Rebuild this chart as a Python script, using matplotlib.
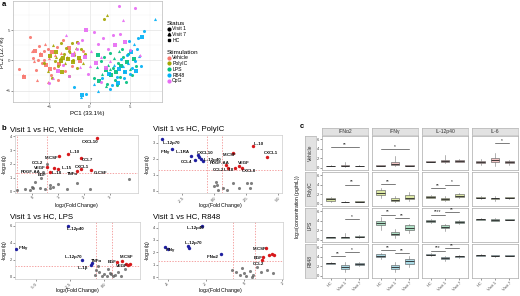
import matplotlib.pyplot as plt
import numpy as np
from matplotlib.lines import Line2D

plt.rcParams['font.family'] = ['Liberation Sans', 'DejaVu Sans']
plt.rcParams['mathtext.default'] = 'regular'

# ---------------- data: panel a (PCA) ----------------
# (PC1, PC2, status)
pca_vehicle = [(-8.7, -1.5, 'V1'), (-8.3, -2.5, 'V7'), (-8.1, -2.7, 'HC'), (-7.4, 3.8, 'V1'), (-7.2, 1.5, 'V7'),
               (-7.0, 0.3, 'V1'), (-6.8, 1.6, 'HC'), (-6.6, -1.6, 'V1'), (-6.5, -3.3, 'V7'), (-6.3, 2.4, 'V1'),
               (-6.2, 1.2, 'V7'), (-6.0, 0.9, 'HC'), (-5.9, -0.4, 'V1'), (-5.7, 1.6, 'V1'), (-5.5, 2.7, 'V7'),
               (-5.4, -0.8, 'HC'), (-5.2, 1.9, 'V1'), (-5.0, 0.4, 'V7'), (-4.8, -2.5, 'V1'), (-4.6, 1.4, 'HC'),
               (-4.4, -1.2, 'V1'), (-4.3, 0.9, 'V7'), (-4.0, 2.2, 'V1'), (-3.8, -0.6, 'HC'), (-3.6, 1.2, 'V7'),
               (-3.3, 3.4, 'V1'), (-3.0, -1.7, 'V1'), (-2.8, 0.6, 'V7'), (-2.5, 2.1, 'HC'), (-2.2, -0.9, 'V1'),
               (-1.9, 1.3, 'V7'), (-1.5, 3.1, 'V1'), (-1.2, -0.2, 'HC'), (-0.8, 1.6, 'V1'), (-6.9, -0.1, 'V7'),
               (-5.6, 0.0, 'V1'), (-4.9, -1.5, 'HC'), (-3.9, -3.3, 'V1'), (-5.1, -3.6, 'V7'), (-6.4, 0.0, 'V1')]
pca_polyic = [(-5.6, -0.4, 'V1'), (-5.2, -1.7, 'V7'), (-4.9, 0.7, 'HC'), (-4.7, -2.9, 'V1'), (-4.5, 2.6, 'V7'),
              (-4.3, -0.2, 'V1'), (-4.1, 1.4, 'HC'), (-3.9, -1.0, 'V1'), (-3.7, 0.3, 'V7'), (-3.5, 2.8, 'V1'),
              (-3.4, -1.9, 'HC'), (-3.2, 1.0, 'V1'), (-3.0, -0.5, 'V7'), (-2.9, 2.0, 'V1'), (-2.7, 0.2, 'HC'),
              (-2.5, -2.6, 'V1'), (-2.4, 1.3, 'V7'), (-2.2, 2.9, 'V1'), (-2.1, -0.3, 'HC'), (-1.9, 0.8, 'V1'),
              (-1.7, 2.1, 'V7'), (-1.5, -1.2, 'V1'), (-1.3, 0.4, 'HC'), (-1.1, 1.8, 'V1'), (-0.8, -0.5, 'V7'),
              (-0.5, 1.0, 'V1'), (-3.6, -0.1, 'HC'), (-2.6, 1.6, 'V1'), (-4.2, 0.5, 'V7'), (1.8, 6.8, 'V1'),
              (2.2, 7.5, 'V7'), (-2.0, 0.0, 'V1'), (-3.3, 0.4, 'HC'), (-1.6, 3.0, 'V1')]
pca_lps = [(0.6, -2.9, 'V1'), (0.9, -1.1, 'V7'), (1.2, -3.4, 'HC'), (1.4, -0.2, 'V1'), (1.6, -2.2, 'V7'),
           (1.8, 0.6, 'V1'), (2.0, -1.6, 'HC'), (2.2, -3.9, 'V1'), (2.3, -0.7, 'V7'), (2.5, 1.2, 'V1'),
           (2.7, -2.5, 'HC'), (2.9, -1.2, 'V1'), (3.0, 0.3, 'V7'), (3.2, -3.2, 'V1'), (3.3, -1.9, 'HC'),
           (3.5, -0.5, 'V1'), (3.6, 1.6, 'V7'), (3.8, -2.7, 'V1'), (3.9, -1.0, 'HC'), (4.1, 0.6, 'V1'),
           (4.3, -1.8, 'V7'), (4.5, -3.6, 'V1'), (4.6, -0.3, 'HC'), (4.8, 1.0, 'V1'), (5.0, -1.4, 'V7'),
           (5.3, -2.4, 'V1'), (5.5, 0.2, 'HC'), (5.8, -0.9, 'V1'), (2.1, -4.3, 'V7'), (3.4, -4.1, 'V1'),
           (1.0, 0.9, 'HC'), (4.0, 1.8, 'V1'), (2.6, -1.4, 'V7')]
pca_r848 = [(-1.9, -4.5, 'V1'), (-1.1, -6.0, 'V7'), (-0.9, -5.7, 'HC'), (-0.4, -5.5, 'V1'), (0.5, -4.0, 'V7'),
            (1.5, -3.0, 'V1'), (2.4, -2.3, 'HC'), (2.8, -4.1, 'V1'), (3.1, -0.8, 'V7'), (3.4, -2.8, 'V1'),
            (3.7, -1.5, 'HC'), (3.9, 0.2, 'V1'), (4.1, -0.9, 'V7'), (4.3, -3.0, 'V1'), (4.4, -1.9, 'HC'),
            (4.6, 0.8, 'V1'), (4.8, -0.4, 'V7'), (5.0, -2.3, 'V1'), (5.2, 1.3, 'HC'), (5.3, -1.2, 'V1'),
            (5.5, 2.7, 'V7'), (5.7, -0.2, 'V1'), (5.8, -1.8, 'HC'), (6.0, 3.6, 'V1'), (6.2, 0.7, 'V7'),
            (6.4, -0.9, 'V1'), (6.5, 3.9, 'HC'), (6.8, 4.8, 'V1'), (8.1, 6.8, 'V7'), (4.9, 3.2, 'V1'),
            (3.5, -3.8, 'HC'), (2.5, -4.8, 'V1'), (1.0, -5.0, 'V7'), (5.9, 1.9, 'V1')]
pca_cpg = [(-5.0, -3.8, 'V1'), (-4.5, -2.9, 'V7'), (-3.9, -1.7, 'HC'), (-3.3, -0.8, 'V1'), (-2.9, 4.2, 'V7'),
           (-2.5, -2.6, 'V1'), (-2.1, 0.9, 'HC'), (-1.6, 1.9, 'V1'), (-1.2, -1.1, 'V7'), (-0.9, 3.3, 'V1'),
           (-0.5, 0.5, 'HC'), (-0.2, -2.2, 'V1'), (0.2, 1.6, 'V7'), (0.5, 4.6, 'V1'), (0.8, -0.4, 'HC'),
           (1.1, 2.7, 'V1'), (1.4, 0.6, 'V7'), (1.7, 3.6, 'V1'), (2.0, -1.3, 'HC'), (2.3, 1.8, 'V1'),
           (2.6, -0.1, 'V7'), (2.9, 4.2, 'V1'), (3.2, 2.5, 'HC'), (3.6, 9.0, 'V1'), (4.2, 6.6, 'V7'),
           (5.7, 8.7, 'V1'), (4.4, 3.0, 'HC'), (5.0, 1.7, 'V1'), (6.3, 0.9, 'V7'), (1.4, -3.6, 'V1'),
           (-0.4, 5.0, 'HC'), (3.8, 4.4, 'V1'), (0.1, -1.0, 'V7'), (-1.4, 2.9, 'V1')]

stim_names = ['Vehicle', 'PolyIC', 'LPS', 'R848', 'CpG']
stim_points = [pca_vehicle, pca_polyic, pca_lps, pca_r848, pca_cpg]
status_codes = ['V1', 'V7', 'HC']
status_names = ['Visit 1', 'Visit 7', 'HC']

# ---------------- data: panel b (volcano plots) ----------------
veh_genes = ['CXCL10', 'IL-10', 'M-CSF', 'CCL7', 'CCL2', 'VEGF', '', 'IL-15', 'CXCL1', 'PDGF-AA', 'IL-18',
             'TNFα', 'G-CSF', 'EGF', '', '', '', '', '', '', '', '', '', '', '', '', '', '', '', '']
veh_fc = [2.5, 1.4, 1.05, 1.9, 0.57, 0.6, 0.85, 1.0, 1.9, 0.43, 0.7, 1.75, 2.3, 0.35,
          -0.58, -0.27, -0.08, 0.04, 0.0, 0.31, 0.5, 0.69, 0.81, 1.0, 0.69, 1.35, 1.73, 2.23, 3.77, 0.12]
veh_q = [3.85, 2.7, 2.6, 2.45, 2.0, 1.75, 1.7, 1.6, 1.6, 1.42, 1.4, 1.45, 1.55, 1.0,
         0.07, 0.14, 0.07, 0.28, 0.35, 0.28, 0.14, 0.28, 0.35, 0.56, 0.49, 0.14, 0.63, 0.14, 0.91, 0.7]

pic_genes = ['IL-12p70', 'IFNγ', 'IL-1RA', 'CXCL10', 'CCL4', 'IL-12p40', '', '', 'M-CSF', 'IL-10', 'CXCL1',
             'PDGF-AA', 'CCL2', 'IL-18', 'VEGF', 'CXCL8', '', '', '', '', '', '', '', '', '', '', '']
pic_fc = [-4.1, -3.3, -1.8, -1.3, -1.5, -1.0, -0.9, -1.2, 1.5, 3.0, 4.1, 0.9, 1.1, 1.6, 1.9, 2.2,
          0.16, 0.25, 0.7, 1.5, 1.9, 2.6, 0.3, 1.0, 2.8, 2.9, 0.0]
pic_q = [3.25, 2.6, 2.2, 2.25, 1.95, 2.0, 1.85, 2.1, 2.35, 2.8, 2.1, 1.6, 1.4, 1.4, 1.55, 1.45,
         0.56, 0.37, 0.19, 0.5, 0.19, 0.5, 0.06, 0.06, 0.19, 0.5, 0.3]

lps_genes = ['IFNγ', 'IL-12p40', 'IL-12p70', 'IL-1β', '', 'EGF', 'M-CSF', 'VEGF', '', '', 'TNFα',
             '', '', '', '', '', '', '', '', '', '', '', '', '', '']
lps_fc = [-6.4, -2.65, -1.6, -1.0, -0.9, 0.95, 1.3, 1.75, 1.9, 1.6, -0.45,
          -0.7, -0.4, -0.2, 0.0, 0.2, 0.4, 0.6, 0.8, 1.0, 1.2, 0.3, -0.6, 0.5, 1.5]
lps_q = [3.3, 6.0, 2.0, 1.45, 1.6, 1.7, 1.9, 1.35, 1.5, 1.55, 1.3,
         0.2, 0.6, 0.1, 0.3, 0.15, 0.5, 0.05, 0.2, 0.6, 0.1, 0.9, 0.8, 0.3, 0.9]

r848_genes = ['IL-12p40', 'IFNγ', 'IL-12p70', 'IFNα2', '', '', 'M-CSF', 'EGF', 'CCL2', '', '', '',
              '', '', '', '', '', '', '', '', '', '', '', '', '']
r848_fc = [-2.2, -4.15, -2.95, -1.2, -4.0, -2.85, 1.15, 1.0, 0.95, 1.45, 1.3, 1.6,
           -0.6, -0.4, -0.2, 0.0, 0.1, 0.3, 0.5, 0.7, 0.9, 1.2, 1.5, -0.1, 0.4]
r848_q = [4.15, 2.45, 2.5, 1.9, 2.3, 2.35, 2.35, 1.6, 1.35, 1.9, 1.75, 1.8,
          0.6, 0.45, 0.2, 0.35, 0.1, 0.5, 0.2, 0.8, 0.4, 0.6, 0.3, 0.7, 0.05]

FC_CUT = np.log2(1.5)
Q_CUT = -np.log10(0.05)

# ---------------- data: panel c (box plots) ----------------
cytokines = ['IFNα2', 'IFNγ', 'IL-12p40', 'IL-6']
stims_c = ['Vehicle', 'PolyIC', 'LPS', 'R848']
groups = ['HC', 'Visit 1', 'Visit 7']
# [stim][cytokine][group] -> (median, q1, q3, whisker low, whisker high)
box_stats = [
    [[(0.35, 0.3, 0.45, 0.25, 0.5), (0.35, 0.3, 0.5, 0.2, 1.3), (0.35, 0.3, 0.45, 0.25, 0.5)],
     [(0.45, 0.4, 0.55, 0.35, 0.6), (0.7, 0.5, 1.1, 0.3, 2.4), (0.45, 0.4, 0.5, 0.35, 0.55)],
     [(1.3, 1.2, 1.4, 1.1, 1.5), (1.4, 1.2, 1.7, 0.9, 2.7), (1.35, 1.25, 1.55, 1.1, 1.8)],
     [(1.2, 1.0, 1.5, 0.6, 1.8), (1.6, 1.3, 2.0, 0.3, 3.0), (1.1, 0.9, 1.4, 0.6, 1.7)]],
    [[(0.9, 0.6, 1.2, 0.3, 1.5), (0.35, 0.3, 0.45, 0.25, 0.55), (0.4, 0.3, 0.5, 0.25, 0.6)],
     [(2.3, 1.9, 2.8, 1.3, 3.3), (0.8, 0.5, 1.2, 0.3, 1.6), (1.3, 0.9, 1.9, 0.5, 2.4)],
     [(1.5, 1.3, 1.7, 1.1, 1.9), (1.0, 0.8, 1.3, 0.5, 1.6), (1.7, 1.5, 2.0, 1.3, 2.2)],
     [(1.3, 1.15, 1.45, 1.0, 1.6), (1.1, 0.9, 1.3, 0.6, 1.6), (1.25, 1.1, 1.4, 1.0, 1.5)]],
    [[(0.5, 0.45, 0.6, 0.4, 0.65), (0.5, 0.45, 0.6, 0.4, 1.4), (0.6, 0.5, 0.8, 0.45, 0.9)],
     [(3.5, 3.0, 4.0, 2.0, 4.8), (1.3, 0.9, 1.7, 0.3, 2.3), (2.5, 2.1, 3.0, 1.5, 3.4)],
     [(3.9, 3.7, 4.1, 3.5, 4.3), (2.7, 2.4, 3.1, 1.8, 3.4), (3.8, 3.6, 4.0, 3.4, 4.2)],
     [(4.3, 4.2, 4.4, 4.1, 4.5), (4.2, 4.05, 4.35, 3.9, 4.5), (4.25, 4.15, 4.3, 4.1, 4.4)]],
    [[(2.6, 2.5, 2.7, 2.4, 2.8), (1.8, 1.4, 2.2, 0.7, 2.9), (2.5, 2.3, 2.7, 2.1, 2.9)],
     [(4.2, 3.9, 4.5, 3.5, 4.8), (1.8, 1.4, 2.2, 0.8, 2.8), (3.0, 2.5, 3.6, 1.8, 4.2)],
     [(4.4, 4.3, 4.55, 4.1, 4.7), (3.7, 3.5, 3.9, 3.0, 4.1), (4.1, 3.95, 4.25, 3.8, 4.4)],
     [(4.3, 4.2, 4.4, 4.1, 4.5), (4.2, 4.1, 4.35, 4.0, 4.45), (4.2, 4.15, 4.3, 4.1, 4.35)]],
]
# significance brackets: (stim, cytokine, group a, group b, height, label)
sig_marks = [(0, 0, 0, 2, 4.3, '**'), (0, 1, 0, 2, 3.9, '*'), (0, 3, 1, 2, 5.2, '*'),
             (1, 0, 1, 2, 4.0, '**'), (1, 1, 0, 1, 4.2, '**'), (1, 2, 0, 1, 3.3, '**'), (1, 2, 1, 2, 4.0, '*'),
             (2, 0, 1, 2, 4.3, '*'), (2, 1, 0, 1, 5.3, '**'), (2, 1, 1, 2, 4.5, '**'),
             (2, 2, 0, 1, 5.3, '****'), (2, 2, 1, 2, 5.8, '**'),
             (3, 0, 0, 1, 4.2, '**'), (3, 0, 1, 2, 5.0, '*'), (3, 1, 0, 1, 5.4, '**'), (3, 1, 1, 2, 4.7, '**'),
             (3, 2, 0, 1, 5.3, '***'), (3, 2, 1, 2, 5.8, '**')]

# ---------------- figure ----------------
W, H = 520, 296
fig = plt.figure(figsize=(W / 100, H / 100), dpi=100)


def px_axes(x0, y0, x1, y1):
    return fig.add_axes([x0 / W, 1 - y1 / H, (x1 - x0) / W, (y1 - y0) / H])


def light_frame(ax, color='#BBBBBB', size=3.1):
    for sp in ax.spines.values():
        sp.set_color(color)
        sp.set_linewidth(0.5)
    ax.tick_params(labelsize=size, length=1.2, width=0.4, pad=0.8, colors='#444444')


# panel a
stim_colors = ['#F8766D', '#A3A500', '#00BF7D', '#00B0F6', '#E76BF3']
status_markers = {'V1': 'o', 'V7': '^', 'HC': 's'}
ax = px_axes(13, 1, 162, 102)
for pts, col in zip(stim_points, stim_colors):
    for st in status_codes:
        sel = [(x, y) for x, y, s in pts if s == st]
        if sel:
            xs, ys = zip(*sel)
            ax.scatter(xs, ys, s=5, color=col, marker=status_markers[st], lw=0, alpha=0.9, zorder=3)
ax.set_xlim(-9.5, 9.0)
ax.set_ylim(-6.9, 9.8)
ax.set_xticks([-5, 0, 5])
ax.set_yticks([-5, 0, 5])
ax.set_xticks([-7.5, -2.5, 2.5, 7.5], minor=True)
ax.set_yticks([-2.5, 2.5, 7.5], minor=True)
ax.grid(True, which='major', color='#E3E3E3', lw=0.5)
ax.grid(True, which='minor', color='#F2F2F2', lw=0.3)
ax.tick_params(which='minor', length=0)
light_frame(ax, size=3.2)
ax.set_xlabel('PC1 (33.1%)', fontsize=4.3, labelpad=1.5)
fig.text(2.6 / W, 1 - 52 / H, 'PC2 (12.7%)', rotation=90, ha='center', va='center', fontsize=4.0)

st_handles = [Line2D([], [], marker=status_markers[c], color='black', ls='', ms=2) for c in status_codes]
leg1 = fig.legend(st_handles, status_names, title='Status', loc='upper left',
                  bbox_to_anchor=(164 / W, 1 - 18 / H), frameon=False, fontsize=3.7, title_fontsize=4.6,
                  handlelength=0.8, handletextpad=0.3, labelspacing=0.15, borderpad=0, alignment='left')
stim_handles = [Line2D([], [], marker='o', color=c, ls='', ms=2) for c in stim_colors]
leg2 = fig.legend(stim_handles, stim_names, title='Stimulation', loc='upper left',
                  bbox_to_anchor=(164 / W, 1 - 47 / H), frameon=False, fontsize=3.7, title_fontsize=4.6,
                  handlelength=0.8, handletextpad=0.3, labelspacing=0.15, borderpad=0, alignment='left')

# panel b
RED = '#D7191C'
BLUE = '#1F1FA0'


def volcano(ax, genes, fc, q, title, xlim, ylim, xticks, yticks, offsets, fmt='{:g}'):
    fc = np.asarray(fc)
    q = np.asarray(q)
    up = (fc > FC_CUT) & (q > Q_CUT)
    down = (fc < -FC_CUT) & (q > Q_CUT)
    rest = ~(up | down)
    ax.axhline(Q_CUT, color='#F08080', lw=0.5, ls=(0, (2, 2)), zorder=1)
    for v in (-FC_CUT, FC_CUT):
        ax.axvline(v, color='#F08080', lw=0.5, ls=(0, (2, 2)), zorder=1)
    ax.scatter(fc[rest], q[rest], s=5, color='#555555', alpha=0.75, lw=0, zorder=2)
    ax.scatter(fc[up], q[up], s=6, color=RED, lw=0, zorder=3)
    ax.scatter(fc[down], q[down], s=6, color=BLUE, lw=0, zorder=3)
    for g, x, y in zip(genes, fc, q):
        if g:
            ha, dx, dy = offsets.get(g, ('left', 2, 0))
            ax.annotate(g, (x, y), xytext=(dx, -dy), textcoords='offset pixels', ha=ha, va='center',
                        fontsize=3.2, fontweight='bold', color='#111111', zorder=4)
    ax.set_xlim(*xlim)
    ax.set_ylim(*ylim)
    ax.set_xticks(xticks)
    ax.set_xticklabels([fmt.format(t) for t in xticks], rotation=45, ha='right', rotation_mode='anchor')
    ax.set_yticks(yticks)
    light_frame(ax, '#CCCCCC', size=2.9)
    ax.set_xlabel(r'log$_2$(Fold Change)', fontsize=3.8)
    ax.xaxis.set_label_coords(0.5, -0.13)
    ax.set_ylabel(r'-log$_{10}$(q)', fontsize=3.8, labelpad=1)
    ax.text(-0.04, 1.03, title, transform=ax.transAxes, ha='left', va='bottom', fontsize=5.6)


veh_off = {'CXCL10': ('center', -6, 4), 'IL-10': ('left', 2, -2), 'M-CSF': ('right', -1, 2),
           'CCL7': ('left', 1, 2), 'CCL2': ('right', -3, -1), 'VEGF': ('right', -2, 1),
           'IL-15': ('left', 4, -1), 'CXCL1': ('center', 1, -2), 'PDGF-AA': ('right', -2, 0),
           'IL-18': ('left', 2, 1), 'TNFα': ('right', 1, 3), 'G-CSF': ('left', 2, 3), 'EGF': ('center', 1, -3)}
pic_off = {'IL-12p70': ('left', 1, 4), 'IFNγ': ('right', -2, 3), 'IL-1RA': ('right', -1, -4),
           'CXCL10': ('left', -1, -2), 'CCL4': ('right', -3, 2), 'IL-12p40': ('left', 2, 1),
           'M-CSF': ('right', 3, 2), 'IL-10': ('left', 1, -2), 'CXCL1': ('center', 4, -4),
           'PDGF-AA': ('center', -6, -2), 'CCL2': ('right', -4, 2), 'IL-18': ('right', -1, 2),
           'VEGF': ('left', -1, -3), 'CXCL8': ('left', 0, 3)}
lps_off = {'IFNγ': ('left', 2, -1), 'IL-12p40': ('left', -1, 3), 'IL-12p70': ('right', 0, -3),
           'IL-1β': ('right', -2, 3), 'TNFα': ('center', -2, -5), 'EGF': ('right', -1, 0),
           'M-CSF': ('left', -2, -4), 'VEGF': ('right', -1, 1)}
r848_off = {'IL-12p40': ('right', 2, 2), 'IFNγ': ('left', 1, 3), 'IL-12p70': ('left', -3, -3),
            'IFNα2': ('right', -2, 3), 'M-CSF': ('right', 1, 1), 'EGF': ('right', 0, 1), 'CCL2': ('right', 2, 4)}

volcano(px_axes(15, 135, 138, 193), veh_genes, veh_fc, veh_q, 'Visit 1 vs HC, Vehicle',
        (-0.65, 4.1), (-0.12, 4.1), [0, 1, 2, 3], [0, 1, 2, 3, 4], veh_off)
volcano(px_axes(158, 135, 282, 193), pic_genes, pic_fc, pic_q, 'Visit 1 vs HC, PolyIC',
        (-4.4, 5.3), (-0.15, 3.5), [-2.5, 0, 2.5, 5.0], [0, 1, 2, 3], pic_off, fmt='{:.1f}')
volcano(px_axes(15, 222, 140, 279), lps_genes, lps_fc, lps_q, 'Visit 1 vs HC, LPS',
        (-6.5, 2.6), (-0.25, 6.45), [-5.0, -2.5, 0.0], [0, 2, 4, 6], lps_off, fmt='{:.1f}')
volcano(px_axes(158, 222, 283, 279), r848_genes, r848_fc, r848_q, 'Visit 1 vs HC, R848',
        (-4.5, 2.05), (-0.15, 4.45), [-4, -2, 0, 2], [0, 1, 2, 3, 4], r848_off)

# panel c
row_fill = ['#F3C6C6', '#DCE8A4', '#AEDFC4', '#A9D9E4']
col_x = [(322, 368), (372, 418), (422, 468), (472, 518)]
row_y = [(136, 170), (172, 206), (208, 242), (244, 278)]
for j, (x0, x1) in enumerate(col_x):
    sa = px_axes(x0, 128, x1, 135)
    sa.set_facecolor('#E2E2E2')
    sa.set_xticks([])
    sa.set_yticks([])
    for sp in sa.spines.values():
        sp.set_color('#AAAAAA')
        sp.set_linewidth(0.4)
    sa.text(0.5, 0.5, cytokines[j], ha='center', va='center', fontsize=3.6, color='#333333',
            transform=sa.transAxes)
for i, (y0, y1) in enumerate(row_y):
    sa = px_axes(305, y0, 316, y1)
    sa.set_facecolor('#E2E2E2')
    sa.set_xticks([])
    sa.set_yticks([])
    for sp in sa.spines.values():
        sp.set_color('#AAAAAA')
        sp.set_linewidth(0.4)
    sa.text(0.5, 0.5, stims_c[i], ha='center', va='center', rotation=90, fontsize=3.6, color='#333333',
            transform=sa.transAxes)
    for j, (x0, x1) in enumerate(col_x):
        ax = px_axes(x0, y0, x1, y1)
        stats = [dict(med=m, q1=a, q3=b, whislo=lo, whishi=hi) for m, a, b, lo, hi in box_stats[i][j]]
        ax.bxp(stats, positions=[1, 2, 3], widths=0.62, patch_artist=True, showfliers=False, showcaps=False,
               boxprops=dict(facecolor=row_fill[i], edgecolor='#555555', lw=0.4),
               medianprops=dict(color='#222222', lw=0.6),
               whiskerprops=dict(color='#777777', lw=0.4))
        for si, sj, ga, gb, yv, lab in sig_marks:
            if si == i and sj == j:
                ax.plot([ga + 1, gb + 1], [yv, yv], color='#333333', lw=0.45)
                ax.text((ga + gb) / 2 + 1, yv + 0.05, lab, ha='center', va='bottom', fontsize=3.4,
                        color='#222222')
        ax.set_xlim(0.4, 3.6)
        ax.set_ylim(-0.5, 6.7)
        ax.set_yticks([0, 2, 4, 6])
        ax.set_xticks([1, 2, 3])
        light_frame(ax, '#AAAAAA', size=3.0)
        if j > 0:
            ax.tick_params(labelleft=False, left=False)
        if i < 3:
            ax.tick_params(labelbottom=False, bottom=False)
        else:
            ax.set_xticklabels(groups, rotation=45, ha='right', rotation_mode='anchor', fontsize=3.0)
fig.text(298 / W, 1 - 207 / H, r'log$_{10}$(concentration (pg/mL))', rotation=90, ha='center', va='center',
         fontsize=3.6)

# panel letters
fig.text(2 / W, 1 - 5 / H, 'a', fontsize=5.5, fontweight='bold', va='center')
fig.text(2 / W, 1 - 129 / H, 'b', fontsize=5.5, fontweight='bold', va='center')
fig.text(300 / W, 1 - 127 / H, 'c', fontsize=5.5, fontweight='bold', va='center')

fig.savefig('out.png', dpi=100)
